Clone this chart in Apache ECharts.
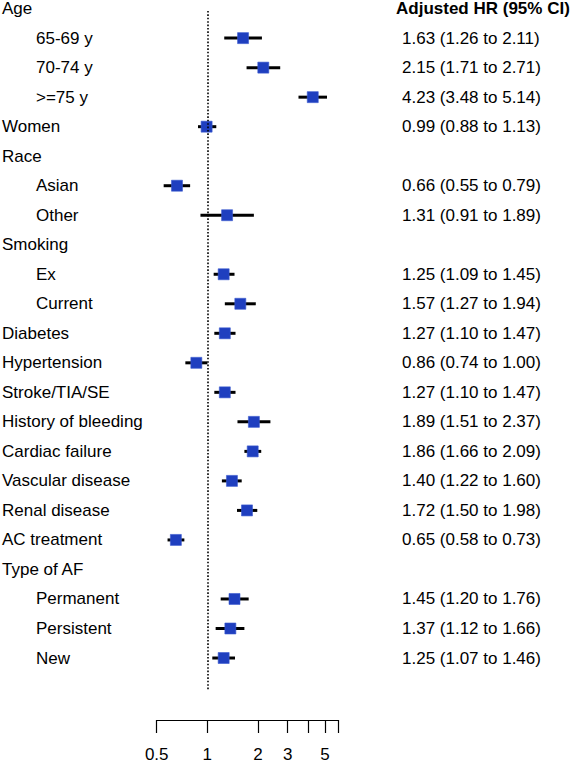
<!DOCTYPE html>
<html>
<head>
<meta charset="utf-8">
<script src="https://cdn.jsdelivr.net/npm/echarts@6/dist/echarts.min.js"></script>
<style>
html,body{margin:0;padding:0;background:#fff;}
#chart{width:570px;height:763px;}
</style>
</head>
<body>
<div id="chart"></div>
<script>
// ---- data ----
var labels = ['Age','65-69 y','70-74 y','>=75 y','Women','Race','Asian','Other','Smoking','Ex','Current',
  'Diabetes','Hypertension','Stroke/TIA/SE','History of bleeding','Cardiac failure','Vascular disease',
  'Renal disease','AC treatment','Type of AF','Permanent','Persistent','New'];
var indent = [0,1,1,1,0,0,1,1,0,1,1,0,0,0,0,0,0,0,0,0,1,1,1];
var hr    = [null,1.63,2.15,4.23,0.99,null,0.66,1.31,null,1.25,1.57,1.27,0.86,1.27,1.89,1.86,1.40,1.72,0.65,null,1.45,1.37,1.25];
var lower = [null,1.26,1.71,3.48,0.88,null,0.55,0.91,null,1.09,1.27,1.10,0.74,1.10,1.51,1.66,1.22,1.50,0.58,null,1.20,1.12,1.07];
var upper = [null,2.11,2.71,5.14,1.13,null,0.79,1.89,null,1.45,1.94,1.47,1.00,1.47,2.37,2.09,1.60,1.98,0.73,null,1.76,1.66,1.46];
var header = 'Adjusted HR (95% CI)';
var tickValues = [0.5,1,2,3,4,5,6];
var tickLabels = [0.5,1,2,3,5];
var refValue = 1;

// ---- layout ----
var FONT = '"Liberation Sans", Arial, sans-serif';
var FS = 17;
var xMin = 0.5, xMax = 6;
var yMin = 0, yMax = 24.1;     // row units (0 = header row)
var refFrom = 0.08, refTo = 23.12;

var lg = function(v){ return Math.log10(v); };

var ciData = [];
for (var i = 0; i < hr.length; i++) {
  if (hr[i] != null) ciData.push([i, lg(hr[i]), lg(lower[i]), lg(upper[i])]);
}
var textData = labels.map(function(l, i){ return [i]; });

function fmt(v){ return v.toFixed(2); }

var chart = echarts.init(document.getElementById('chart'), null, {renderer:'svg'});
chart.setOption({
  animation: false,
  backgroundColor: '#fff',
  grid: {left: 156.7, right: 570 - 338.3, top: 8.6, bottom: 41},
  xAxis: {
    type: 'value', min: lg(xMin), max: lg(xMax), position: 'bottom',
    axisLine: {show: true, onZero: false, lineStyle: {color: '#000', width: 1.2}},
    axisTick: {show: true, length: 13, lineStyle: {color: '#000', width: 1.2},
      customValues: tickValues.map(lg)},
    axisLabel: {show: true, margin: 26, color: '#000', fontSize: FS, fontFamily: FONT,
      customValues: tickLabels.map(lg),
      formatter: function(v){
        var best = tickLabels[0];
        tickLabels.forEach(function(t){ if (Math.abs(lg(t) - v) < Math.abs(lg(best) - v)) best = t; });
        return String(best);
      }},
    splitLine: {show: false}
  },
  yAxis: {type: 'value', inverse: true, min: yMin, max: yMax, show: false},
  series: [
    {
      type: 'custom',
      data: ciData,
      dimensions: ['row','hr','lo','hi'],
      encode: {x: [1,2,3], y: 0},
      renderItem: function(params, api){
        var row = api.value(0);
        var p = api.coord([api.value(1), row]);
        var a = api.coord([api.value(2), row]);
        var b = api.coord([api.value(3), row]);
        var s = 11;
        return {type: 'group', children: [
          {type: 'line', shape: {x1: a[0], y1: a[1], x2: b[0], y2: b[1]},
           style: {stroke: '#000', lineWidth: 3}},
          {type: 'rect', shape: {x: p[0] - s/2, y: p[1] - s/2, width: s, height: s},
           style: {fill: '#1f3fbf', stroke: '#3a5ad0', lineWidth: 0.6}}
        ]};
      },
      markLine: {
        silent: true, symbol: 'none', label: {show: false},
        lineStyle: {color: '#000', width: 1.6, type: [1.6, 1.8]},
        data: [[{coord: [lg(refValue), refFrom]}, {coord: [lg(refValue), refTo]}]]
      },
      z: 3
    },
    {
      type: 'custom',
      data: textData,
      dimensions: ['row'],
      encode: {y: 0},
      renderItem: function(params, api){
        var i = api.value(0);
        var y = api.coord([lg(xMin), i])[1];
        var kids = [{type: 'text', x: indent[i] ? 36 : 2, y: y,
          style: {text: labels[i], fill: '#000', font: FS + 'px ' + FONT, textVerticalAlign: 'middle', textAlign: 'left'}}];
        if (i === 0) {
          kids.push({type: 'text', x: 396, y: y,
            style: {text: header, fill: '#000', font: 'bold ' + FS + 'px ' + FONT, textVerticalAlign: 'middle', textAlign: 'left'}});
        } else if (hr[i] != null) {
          kids.push({type: 'text', x: 402, y: y,
            style: {text: fmt(hr[i]) + ' (' + fmt(lower[i]) + ' to ' + fmt(upper[i]) + ')', fill: '#000',
              font: FS + 'px ' + FONT, textVerticalAlign: 'middle', textAlign: 'left'}});
        }
        return {type: 'group', children: kids};
      }
    }
  ]
});
</script>
</body>
</html>
